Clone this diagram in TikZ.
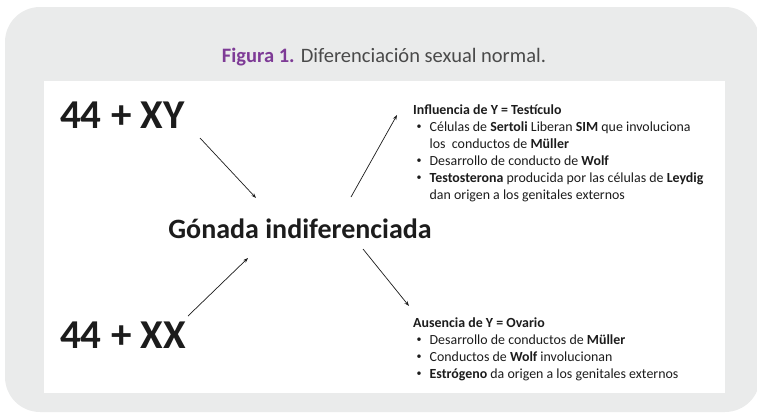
\documentclass[tikz,border=0pt]{standalone}
\usepackage{fontspec}
\setmainfont{Carlito}
\usepackage{tikz}
\usetikzlibrary{arrows.meta}
\definecolor{panelgray}{HTML}{EAEBEB}
\definecolor{figpurple}{HTML}{7E3B96}
\definecolor{titlegray}{HTML}{4A4A4A}
\definecolor{inkblack}{HTML}{1C1C1C}
\newcommand{\blt}{\hspace{3.5pt}\raisebox{1.6pt}{\fontsize{10}{10}\selectfont\textbullet}}

\begin{document}
\begin{tikzpicture}[x=1pt,y=-1pt,>={Stealth[length=5pt,width=3.6pt]},
  arr/.style={->,inkblack,line width=0.7pt},
  karyo/.style={inkblack,font=\fontsize{41}{41}\selectfont\bfseries,inner sep=0pt,anchor=west},
  listbox/.style={inkblack,font=\fontsize{13.9}{17}\selectfont,inner sep=0pt,anchor=north west}]
\useasboundingbox (0,0) rectangle (757,413);
\fill[panelgray,rounded corners=35] (5,7) rectangle (760,412);
\fill[white] (44,81) rectangle (725,393);
\node[inner sep=0pt,font=\fontsize{20.5}{22}\selectfont] (title) at (384,57)
  {\textcolor{figpurple}{\bfseries Figura 1.} \textcolor{titlegray}{Diferenciación sexual normal.}};
\node[karyo] (xy) at (60,115) {44 + XY};
\node[karyo] (xx) at (60,335) {44 + XX};
\node[inkblack,inner sep=0pt,font=\fontsize{28}{28}\selectfont\bfseries] (gon) at (300,229)
  {Gónada indiferenciada};
\node[listbox] (tes) at (413,102) {\begin{tabular}{@{}l@{\hspace{8pt}}l@{}}
\multicolumn{2}{@{}l@{}}{\textbf{Influencia de Y = Testículo}}\\
\blt & Células de \textbf{Sertoli} Liberan \textbf{SIM} que involuciona\\
 & los\ \ conductos de \textbf{Müller}\\
\blt & Desarrollo de conducto de \textbf{Wolf}\\
\blt & \textbf{Testosterona} producida por las células de \textbf{Leydig}\\
 & dan origen a los genitales externos
\end{tabular}};
\node[listbox] (ova) at (413,315) {\begin{tabular}{@{}l@{\hspace{8pt}}l@{}}
\multicolumn{2}{@{}l@{}}{\textbf{Ausencia de Y = Ovario}}\\
\blt & Desarrollo de conductos de \textbf{Müller}\\
\blt & Conductos de \textbf{Wolf} involucionan\\
\blt & \textbf{Estrógeno} da origen a los genitales externos
\end{tabular}};
% arrow ends
\coordinate (xyout) at (200,138);
\coordinate (gonnw) at (256,198);
\coordinate (xxout) at (188,316);
\coordinate (gonsw) at (248,258);
\coordinate (gonne) at (351,197);
\coordinate (tesin) at (397,115);
\coordinate (gonse) at (363,249);
\coordinate (ovain) at (409,306);
\draw[arr] (xyout) -- (gonnw);
\draw[arr] (xxout) -- (gonsw);
\draw[arr] (gonne) -- (tesin);
\draw[arr] (gonse) -- (ovain);
\end{tikzpicture}
\end{document}
